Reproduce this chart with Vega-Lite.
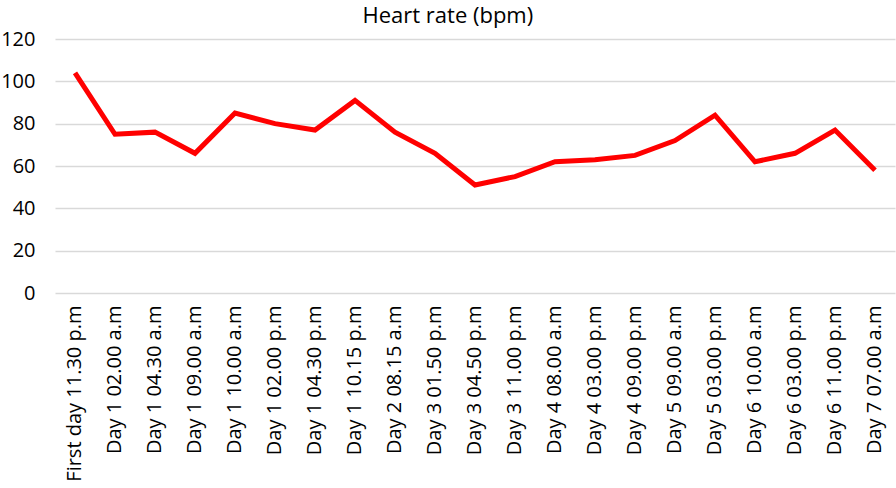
{
  "$schema": "https://vega.github.io/schema/vega-lite/v6.json",
  "autosize": "none",
  "width": 840,
  "height": 254,
  "padding": {"left": 55, "top": 39, "right": 1, "bottom": 195},
  "background": "white",
  "title": {"text": "Heart rate (bpm)", "anchor": "middle", "frame": "bounds", "font": "Open Sans", "fontSize": 22, "fontWeight": "normal", "color": "#000000", "offset": 1},
  "config": {"view": {"stroke": null}},
  "data": {"values": [
    {"time": "First day 11.30 p.m", "bpm": 104},
    {"time": "Day 1 02.00 a.m", "bpm": 75},
    {"time": "Day 1 04.30 a.m", "bpm": 76},
    {"time": "Day 1 09.00 a.m", "bpm": 66},
    {"time": "Day 1 10.00 a.m", "bpm": 85},
    {"time": "Day 1 02.00 p.m", "bpm": 80},
    {"time": "Day 1 04.30 p.m", "bpm": 77},
    {"time": "Day 1 10.15 p.m", "bpm": 91},
    {"time": "Day 2 08.15 a.m", "bpm": 76},
    {"time": "Day 3 01.50 p.m", "bpm": 66},
    {"time": "Day 3 04.50 p.m", "bpm": 51},
    {"time": "Day 3 11.00 p.m", "bpm": 55},
    {"time": "Day 4 08.00 a.m", "bpm": 62},
    {"time": "Day 4 03.00 p.m", "bpm": 63},
    {"time": "Day 4 09.00 p.m", "bpm": 65},
    {"time": "Day 5 09.00 a.m", "bpm": 72},
    {"time": "Day 5 03.00 p.m", "bpm": 84},
    {"time": "Day 6 10.00 a.m", "bpm": 62},
    {"time": "Day 6 03.00 p.m", "bpm": 66},
    {"time": "Day 6 11.00 p.m", "bpm": 77},
    {"time": "Day 7 07.00 a.m", "bpm": 58}
  ]},
  "mark": {"type": "line", "color": "#FF0000", "strokeWidth": 5, "strokeJoin": "miter", "strokeCap": "butt"},
  "encoding": {
    "x": {
      "field": "time", "type": "nominal", "sort": null,
      "scale": {"type": "band", "paddingInner": 0, "paddingOuter": 0},
      "axis": {"title": null, "labelAngle": -90, "labelFont": "Open Sans", "labelFontSize": 20, "labelColor": "#000000", "labelPadding": 12, "ticks": false, "domain": false, "grid": false}
    },
    "y": {
      "field": "bpm", "type": "quantitative",
      "scale": {"domain": [0, 120], "nice": false},
      "axis": {"title": null, "values": [0, 20, 40, 60, 80, 100, 120], "labelFont": "Open Sans", "labelFontSize": 20, "labelColor": "#000000", "labelPadding": 20, "ticks": false, "domain": false, "grid": true, "gridColor": "#D9D9D9", "gridWidth": 1.5}
    }
  }
}
